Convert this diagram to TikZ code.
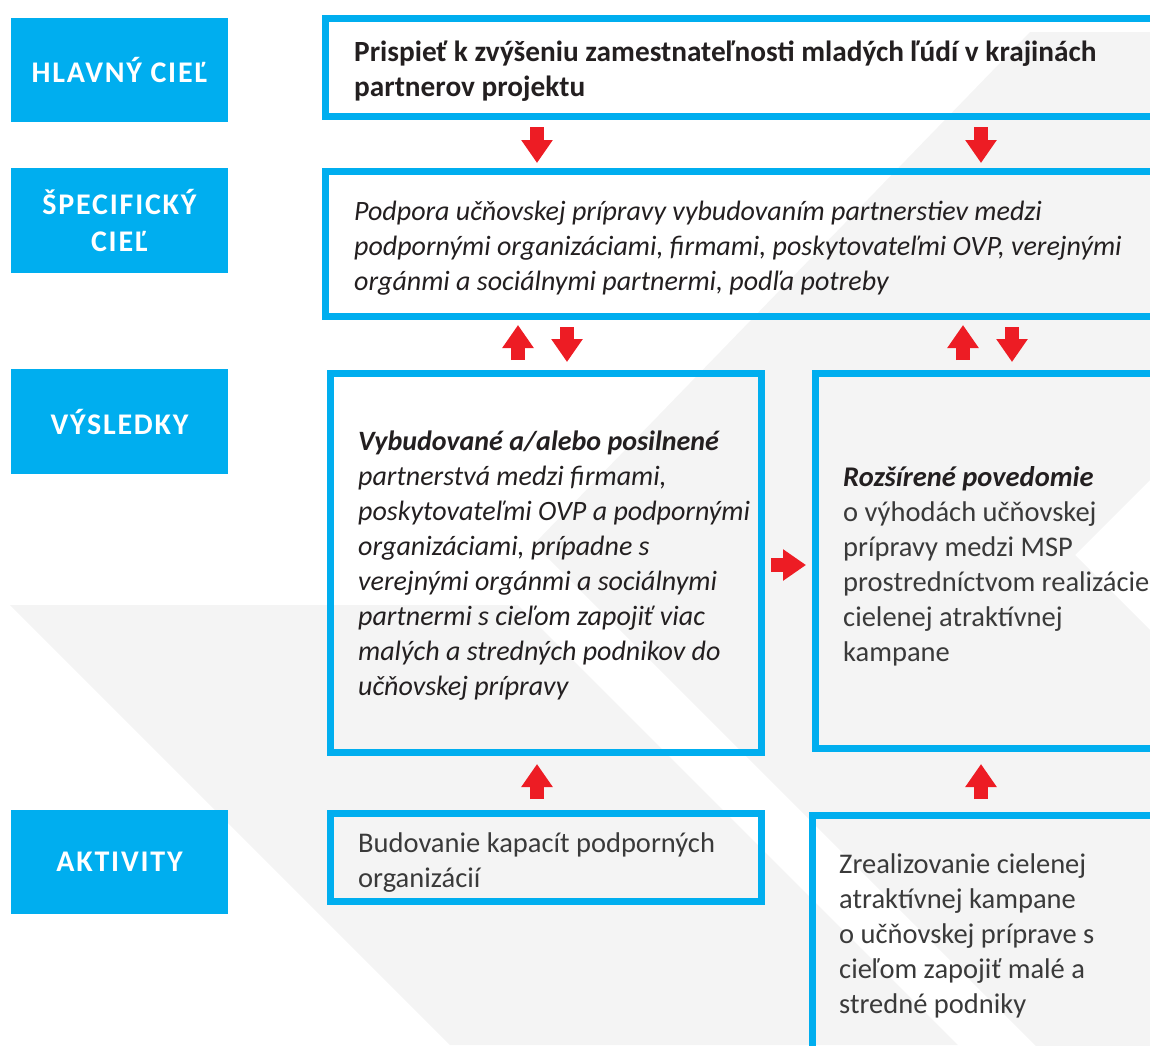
\documentclass[tikz,border=0pt]{standalone}
\usepackage{fontspec}
\setmainfont{Carlito}
\usetikzlibrary{arrows.meta}
\definecolor{cblue}{HTML}{00AEEF}
\definecolor{cred}{HTML}{ED1C24}
\definecolor{cgray}{HTML}{F4F4F4}
\definecolor{ctext}{HTML}{231F20}
\definecolor{clight}{HTML}{3A3A3A}
\begin{document}
\begin{tikzpicture}[x=1pt,y=-1pt,
  lbl/.style={fill=cblue, text=white, font=\fontsize{30}{37}\selectfont\bfseries\addfontfeature{LetterSpace=6},
    minimum width=217pt, minimum height=104pt, inner sep=0pt, outer sep=0pt, anchor=north west, align=center},
  box/.style={draw=cblue, line width=7pt, outer sep=3.5pt, inner sep=0pt, anchor=north west},
  txt/.style={anchor=west, align=left, inner sep=0pt, text=clight, font=\fontsize{28.5}{35}\selectfont},
  itxt/.style={txt, text=ctext, font=\fontsize{28}{35}\selectfont\itshape},
  barrow/.style={draw=cred, line width=14pt, -{Triangle[width=30pt,length=23pt]}},
]
\useasboundingbox (0,0) rectangle (1150,1045);
\clip (0,0) rectangle (1150,1045);
% background decoration
\fill[cgray] (10,605) -- (518,605) -- (958,1045) -- (450,1045) -- cycle;
\fill[cgray] (1030,32) -- (1160,32) -- (1160,470) -- (1075,555) -- (1160,640) -- (1160,1050) -- (1040,1050) -- (534,544) -- cycle;
% row labels
\node[lbl] (l1) at (11,18) {HLAVNÝ CIEĽ};
\node[lbl, minimum height=105pt] (l2) at (11,168) {ŠPECIFICKÝ\\CIEĽ};
\node[lbl, minimum height=105pt] (l3) at (11,369) {VÝSLEDKY};
\node[lbl] (l4) at (11,810) {AKTIVITY};
% boxes
\node[box, minimum width=846pt, minimum height=98pt] (top) at (322,15) {};
\node[box, minimum width=846pt, minimum height=145pt] (spec) at (322,168) {};
\node[box, minimum width=431pt, minimum height=379pt] (resL) at (327,370) {};
\node[box, minimum width=350pt, minimum height=375pt] (resR) at (812,370) {};
\node[box, minimum width=431pt, minimum height=88pt] (actL) at (327,810) {};
\node[box, minimum width=350pt, minimum height=240pt] (actR) at (809,812) {};
% texts
\node[txt, text=ctext, font=\fontsize{29.3}{35}\selectfont\bfseries] (ttop) at ([xshift=32pt,yshift=-4pt]top.west)
  {Prispieť k zvýšeniu zamestnateľnosti mladých ľúdí v krajinách\\partnerov projektu};
\node[itxt] (tspec) at ([xshift=32pt,yshift=-4pt]spec.west)
  {Podpora učňovskej prípravy vybudovaním partnerstiev medzi\\podpornými organizáciami, firmami, poskytovateľmi OVP, verejnými\\orgánmi a sociálnymi partnermi, podľa potreby};
\node[itxt] (tresL) at ([xshift=31pt,yshift=-3pt]resL.west)
  {\textbf{Vybudované a/alebo posilnené}\\partnerstvá medzi firmami,\\poskytovateľmi OVP a podpornými\\organizáciami, prípadne s\\verejnými orgánmi a sociálnymi\\partnermi s cieľom zapojiť viac\\malých a stredných podnikov do\\učňovskej prípravy};
\node[txt] (tresR) at ([xshift=31pt,yshift=-5pt]resR.west)
  {{\color{ctext}\bfseries\itshape Rozšírené povedomie}\\o výhodách učňovskej\\prípravy medzi MSP\\prostredníctvom realizácie\\cielenej atraktívnej\\kampane};
\node[txt] (tactL) at ([xshift=31pt,yshift=-5pt]actL.west)
  {Budovanie kapacít podporných\\organizácií};
\node[txt] (tactR) at ([xshift=30pt]actR.west)
  {Zrealizovanie cielenej\\atraktívnej kampane\\o učňovskej príprave s\\cieľom zapojiť malé a\\stredné podniky};
% arrow columns
\coordinate (cA) at (537,0);
\coordinate (cB) at (981,0);
\coordinate (cAu) at (518,0);
\coordinate (cAd) at (567,0);
\coordinate (cBu) at (963,0);
\coordinate (cBd) at (1012,0);
% arrows
\draw[barrow, shorten <=7pt, shorten >=5pt] (top.south -| cA) -- (spec.north -| cA);
\draw[barrow, shorten <=7pt, shorten >=5pt] (top.south -| cB) -- (spec.north -| cB);
\draw[barrow, shorten <=10pt, shorten >=5pt] (resL.north -| cAu) -- (spec.south -| cAu);
\draw[barrow, shorten <=7pt, shorten >=8pt] (spec.south -| cAd) -- (resL.north -| cAd);
\draw[barrow, shorten <=10pt, shorten >=5pt] (resR.north -| cBu) -- (spec.south -| cBu);
\draw[barrow, shorten <=7pt, shorten >=8pt] (spec.south -| cBd) -- (resR.north -| cBd);
\draw[barrow, shorten <=6pt, shorten >=6pt] ([yshift=-2pt]resL.east) -- ([yshift=-2pt]resL.east -| resR.west);
\draw[barrow, shorten <=11pt, shorten >=8pt] (actL.north -| cA) -- (resL.south -| cA);
\draw[barrow, shorten <=13pt, shorten >=12pt] (actR.north -| cB) -- (resR.south -| cB);
\end{tikzpicture}
\end{document}
